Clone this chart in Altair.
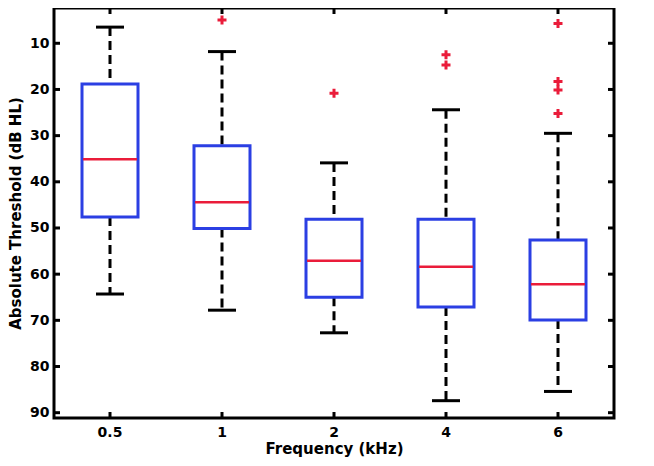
import altair as alt
import pandas as pd

freqs = ["0.5", "1", "2", "4", "6"]
q1 = [18.8, 32.2, 48.1, 48.1, 52.6]
median = [35.1, 44.4, 57.1, 58.4, 62.2]
q3 = [47.6, 50.1, 65.0, 67.1, 69.9]
whisk_lo = [6.5, 11.8, 35.9, 24.4, 29.5]
whisk_hi = [64.3, 67.8, 72.7, 87.4, 85.4]
out_freq = ["1", "2", "4", "4", "6", "6", "6", "6"]
out_val = [4.95, 20.8, 12.5, 14.7, 5.7, 18.3, 20.1, 25.2]
y_ticks = [10, 20, 30, 40, 50, 60, 70, 80, 90]

W, H = 560, 410
BLUE = "#2b3fe3"
RED = "#ea1c3a"
FONT = "DejaVu Sans"

box = pd.DataFrame(dict(f=freqs, q1=q1, med=median, q3=q3, lo=whisk_lo, hi=whisk_hi))
outl = pd.DataFrame(dict(f=out_freq, v=out_val))
yt = pd.DataFrame(dict(t=y_ticks))
xt = pd.DataFrame(dict(f=freqs))

xs = alt.Scale(domain=freqs, paddingInner=0, paddingOuter=0)
ys = alt.Scale(domain=[2.36, 91.15], reverse=True, nice=False, zero=False)

xax = alt.Axis(title="Frequency (kHz)", labelAngle=0, ticks=False, domain=False,
               labelFont=FONT, labelFontSize=14, labelFontWeight="bold", labelColor="black",
               titleFont=FONT, titleFontSize=15, titleFontWeight="bold", titleColor="black",
               labelPadding=7, titlePadding=2, grid=False)
yax = alt.Axis(title="Absolute Threshold (dB HL)", values=y_ticks, ticks=False, domain=False,
               labelFont=FONT, labelFontSize=14, labelFontWeight="bold", labelColor="black",
               titleFont=FONT, titleFontSize=15, titleFontWeight="bold", titleColor="black",
               labelPadding=5, titlePadding=6, grid=False)

X = alt.X("f:N", scale=xs, axis=xax, sort=freqs)
Xn = alt.X("f:N", scale=xs, sort=freqs)

whisk_up = alt.Chart(box).mark_rule(color="black", strokeWidth=3, strokeDash=[9, 5], opacity=1).encode(
    x=X, y=alt.Y("lo:Q", scale=ys, axis=yax), y2="q1:Q")
whisk_dn = alt.Chart(box).mark_rule(color="black", strokeWidth=3, strokeDash=[9, 5], opacity=1).encode(
    x=Xn, y=alt.Y("q3:Q", scale=ys), y2="hi:Q")
cap_lo = alt.Chart(box).mark_tick(color="black", thickness=3, size=28, orient="horizontal", opacity=1).encode(
    x=Xn, y=alt.Y("lo:Q", scale=ys))
cap_hi = alt.Chart(box).mark_tick(color="black", thickness=3, size=28, orient="horizontal", opacity=1).encode(
    x=Xn, y=alt.Y("hi:Q", scale=ys))
boxes = alt.Chart(box).mark_bar(fillOpacity=0, stroke=BLUE, strokeWidth=3, strokeOpacity=1,
                                width=alt.RelativeBandSize(0.5)).encode(
    x=Xn, y=alt.Y("q1:Q", scale=ys), y2="q3:Q")
meds = alt.Chart(box).mark_tick(color=RED, thickness=2.5, size=54, orient="horizontal", opacity=1).encode(
    x=Xn, y=alt.Y("med:Q", scale=ys))
plus = "M-1,0L1,0M0,-1L0,1"
outs = alt.Chart(outl).mark_point(shape=plus, filled=False, stroke=RED, strokeWidth=3,
                                  size=81, opacity=1).encode(
    x=Xn, y=alt.Y("v:Q", scale=ys))

ytick_l = alt.Chart(yt).mark_rule(color="black", strokeWidth=3).encode(
    y=alt.Y("t:Q", scale=ys), x=alt.value(0), x2=alt.value(6))
ytick_r = alt.Chart(yt).mark_rule(color="black", strokeWidth=3).encode(
    y=alt.Y("t:Q", scale=ys), x=alt.value(W - 6), x2=alt.value(W))
xtick_b = alt.Chart(xt).mark_rule(color="black", strokeWidth=3).encode(
    x=Xn, y=alt.value(H - 6), y2=alt.value(H))
xtick_t = alt.Chart(xt).mark_rule(color="black", strokeWidth=3).encode(
    x=Xn, y=alt.value(0), y2=alt.value(6))

chart = alt.layer(whisk_up, whisk_dn, cap_lo, cap_hi, boxes, meds, outs,
                  ytick_l, ytick_r, xtick_b, xtick_t).properties(
    width=W, height=H,
    background="white",
    autosize=alt.AutoSizeParams(type="none"),
    padding={"left": 46, "top": 0, "right": 22, "bottom": 40},
).configure_view(stroke="black", strokeWidth=3, strokeOpacity=1)

chart.save("out.html", embed_options={"renderer": "svg", "actions": False})
